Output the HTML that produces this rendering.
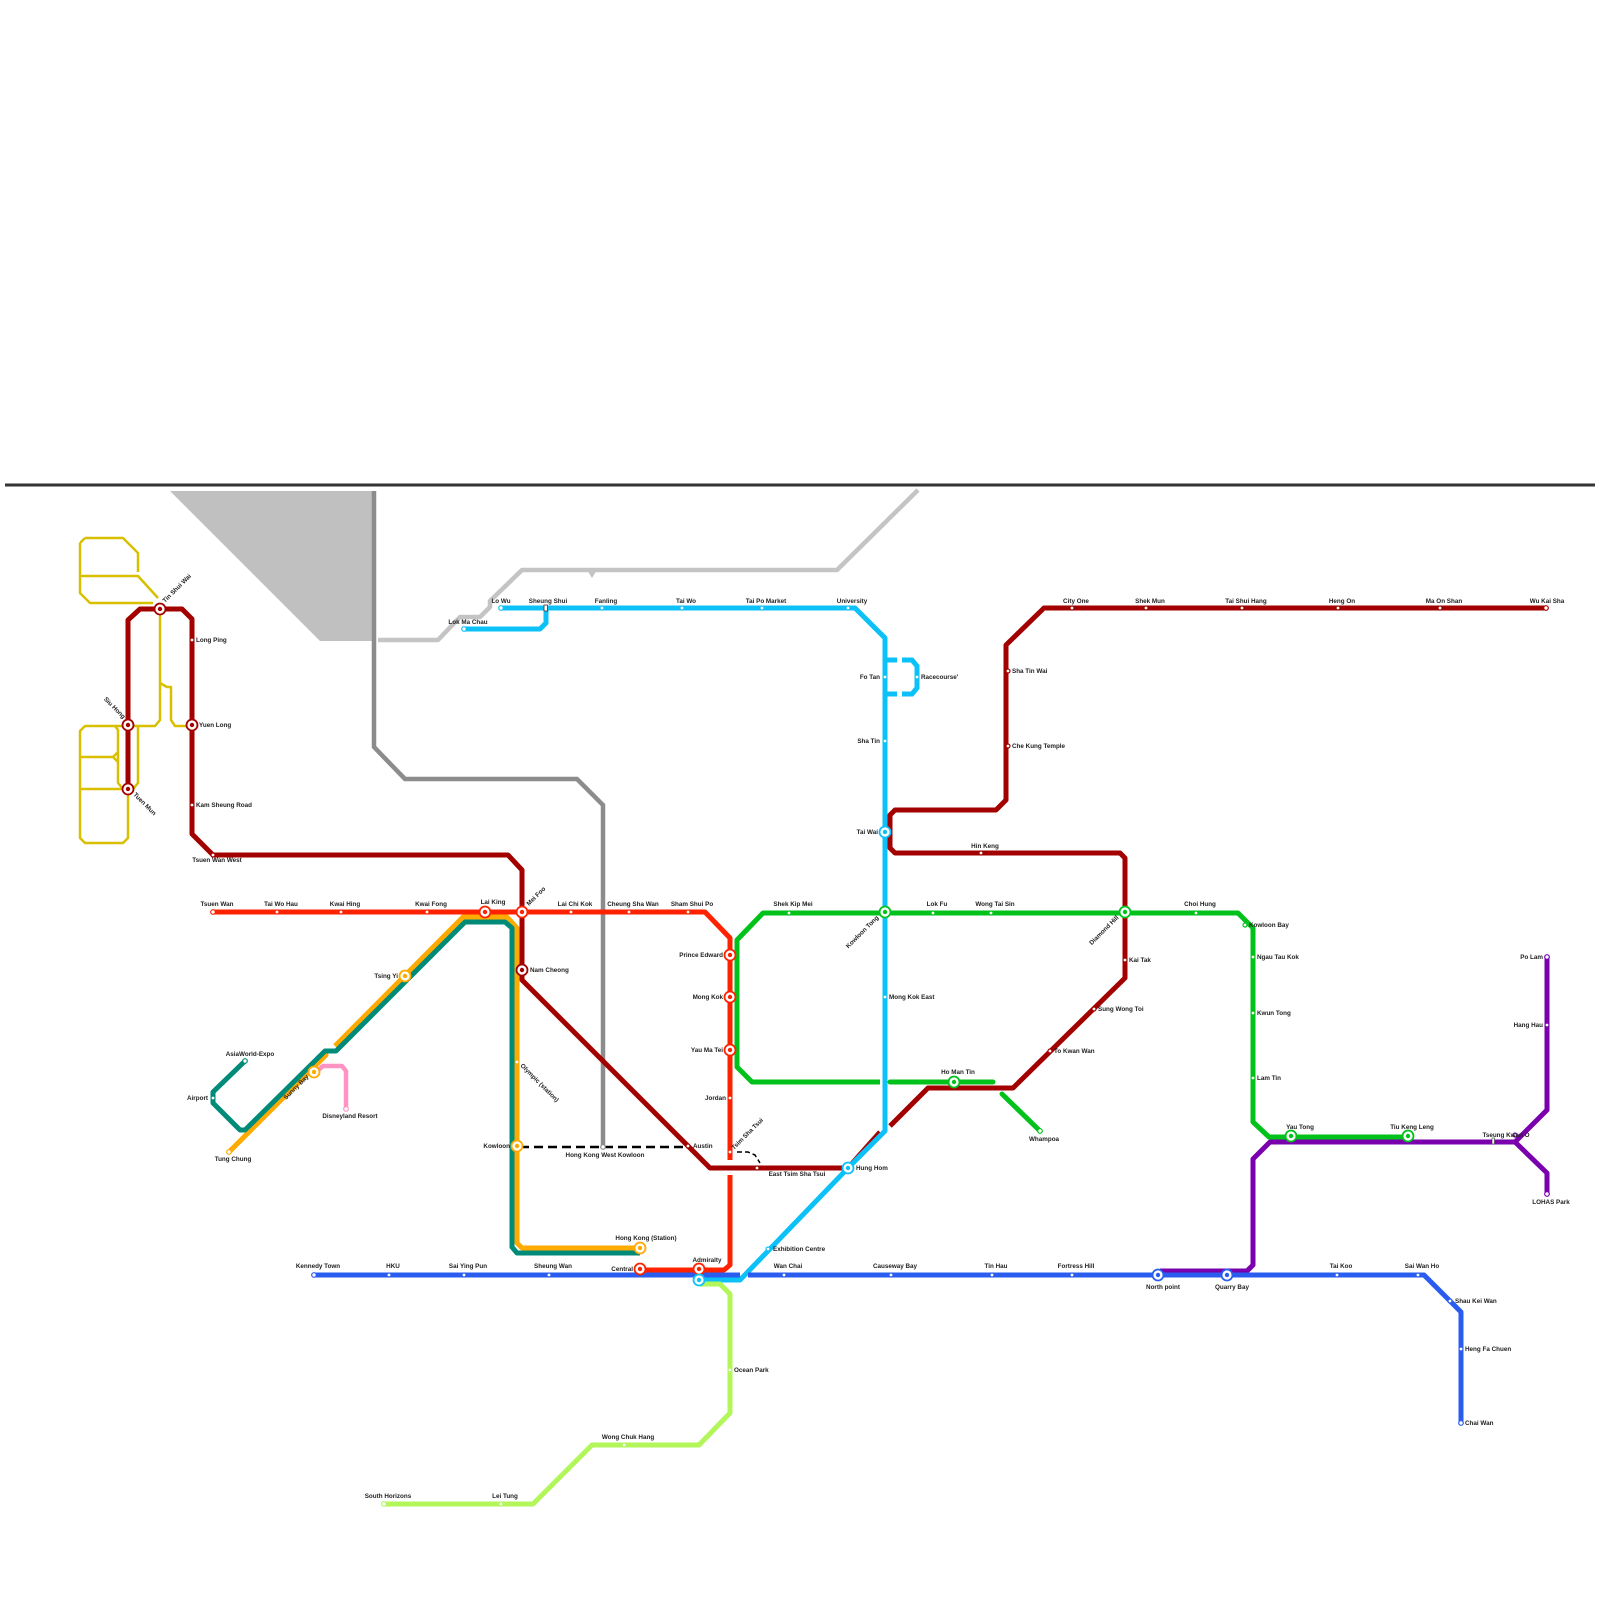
<!DOCTYPE html>
<html><head><meta charset="utf-8"><style>
html,body{margin:0;padding:0;background:#fff;}
svg{display:block;}
text{font-family:"Liberation Sans",sans-serif;font-size:6.3px;font-weight:bold;fill:#222;}
.m{text-anchor:middle}.e{text-anchor:end}
</style></head><body>
<svg width="1600" height="1600" viewBox="0 0 1600 1600" xmlns="http://www.w3.org/2000/svg">
<line x1="5" y1="485" x2="1595" y2="485" stroke="#333" stroke-width="3"/>
<!-- grey polygon -->
<polygon points="170,491 372,491 372,641 320,641" fill="#c0c0c0"/>
<!-- light grey -->
<polyline points="378,640 438,640 460,617 480,617 490,607 490,601 522,570 837,570 918,490" fill="none" stroke="#c4c4c4" stroke-width="4.5" stroke-linejoin="round"/>
<polygon points="587,570 597,570 592,578" fill="#c4c4c4"/>
<!-- dark grey -->
<polyline points="374,491 374,747 405,779 577,779 603,805 603,1147" fill="none" stroke="#8c8c8c" stroke-width="4.5"/>
<!-- dashed link -->
<line x1="520" y1="1147" x2="688" y2="1147" stroke="#000" stroke-width="2.5" stroke-dasharray="9,5"/>
<polyline points="737,1152 748,1152 755,1155 760,1163" fill="none" stroke="#000" stroke-width="1.5" stroke-dasharray="5,3"/>

<!-- light rail -->
<g fill="none" stroke="#d8c000" stroke-width="2.5" stroke-linejoin="round">
<path d="M85,538 L123,538 L138,553 L138,572 M80,543 L80,593 L90,603 L153,603 M80,576 L138,576 L158,598 M80,543 L85,538"/>
<path d="M160,607 L160,720 L155,726 L128,726 M160,683 L167,687 L171,687 L171,720 L175,726 L192,726"/>
<path d="M128,726 L85,726 L80,731 L80,838 L85,843 L123,843 L128,838 L128,789 M80,757 L113,757 M80,789 L128,789 M115,726 L118,730 L118,783 L123,789 M138,726 L138,783 L133,789 M113,757 L118,752 M113,757 L118,762"/>
</g>

<!-- Tuen Ma line -->
<polyline points="1547,608 1044,608 1006,645 1006,800 996,810 895,810 890,815 890,848 895,853 1120,853 1125,858 1125,978 1013,1088 928,1088 890,1126" fill="none" stroke="#a30000" stroke-width="5" stroke-linejoin="round"/>
<polyline points="880,1132 848,1168 710,1168 522,980 522,870 508,855 213,855 192,834 192,619 182,609 140,609 128,620 128,790" fill="none" stroke="#a30000" stroke-width="5" stroke-linejoin="round"/>

<!-- Tung Chung -->
<polyline points="229,1152 326,1055" fill="none" stroke="#ffaa00" stroke-width="5" stroke-linecap="round"/>
<polyline points="335,1046 463,917 507,917 517,928 517,1243 522,1248 640,1248" fill="none" stroke="#ffaa00" stroke-width="5" stroke-linejoin="round"/>
<!-- Airport express -->
<polyline points="245,1061 213,1092 213,1103 240,1130 245,1130 325,1051 336,1051 465,922 505,922 512,928 512,1247 517,1253 640,1253" fill="none" stroke="#008a78" stroke-width="5" stroke-linejoin="round"/>
<!-- Disney -->
<polyline points="316,1072 323,1066 342,1066 346,1071 346,1109" fill="none" stroke="#ff94c2" stroke-width="4.5" stroke-linejoin="round"/>

<!-- Tsuen Wan line -->
<polyline points="213,912 705,912 730,938 730,1160" fill="none" stroke="#ff2200" stroke-width="5" stroke-linejoin="round"/>
<polyline points="730,1175 730,1265 724,1270 640,1270" fill="none" stroke="#ff2200" stroke-width="5" stroke-linejoin="round"/>

<!-- Kwun Tong -->
<polyline points="880,1082 752,1082 737,1067 737,940 763,913 1238,913 1253,928 1253,1122 1269,1137 1408,1137" fill="none" stroke="#00c21a" stroke-width="5" stroke-linejoin="round"/>
<line x1="890" y1="1082" x2="993" y2="1082" stroke="#00c21a" stroke-width="5" stroke-linecap="round"/>
<line x1="1002" y1="1094" x2="1040" y2="1131" stroke="#00c21a" stroke-width="5" stroke-linecap="round"/>

<!-- TKO -->
<polyline points="1547,957 1547,1110 1515,1142 1270,1142 1253,1159 1253,1265 1247,1271 1160,1271" fill="none" stroke="#7a00ae" stroke-width="5" stroke-linejoin="round"/>
<polyline points="1515,1142 1547,1173 1547,1194" fill="none" stroke="#7a00ae" stroke-width="5" stroke-linejoin="round"/>

<!-- East rail cyan -->
<polyline points="501,608 855,608 885,638 885,1131 848,1168 740,1280 699,1280" fill="none" stroke="#0cc0f8" stroke-width="5" stroke-linejoin="round"/>
<polyline points="464,629 540,629 546,623 546,608" fill="none" stroke="#0cc0f8" stroke-width="5" stroke-linejoin="round"/>
<g fill="none" stroke="#0cc0f8" stroke-width="5">
<line x1="885" y1="660" x2="897" y2="660"/><polyline points="902,660 912,660 917,666 917,688 912,694 902,694"/><line x1="885" y1="694" x2="897" y2="694"/>
</g>

<!-- Island line -->
<line x1="314" y1="1275" x2="740" y2="1275" stroke="#2a5cf0" stroke-width="5"/>
<polyline points="748,1275 1424,1275 1461,1312 1461,1423" fill="none" stroke="#2a5cf0" stroke-width="5" stroke-linejoin="round"/>
<!-- South Island -->
<polyline points="699,1284 720,1284 730,1294 730,1413 699,1445 592,1445 533,1504 384,1504" fill="none" stroke="#b2f65a" stroke-width="5" stroke-linejoin="round"/>

<!-- simple stations -->
<g fill="#fff" stroke-width="1.2">
<g stroke="#a30000">
<circle cx="192" cy="640" r="2"/><circle cx="192" cy="805" r="2"/><circle cx="213" cy="855" r="2"/>
<circle cx="1072" cy="608" r="2"/><circle cx="1146" cy="608" r="2"/><circle cx="1242" cy="608" r="2"/><circle cx="1338" cy="608" r="2"/><circle cx="1440" cy="608" r="2"/><circle cx="1546" cy="608" r="2.3"/>
<circle cx="1008" cy="671" r="2"/><circle cx="1008" cy="746" r="2"/><circle cx="981" cy="853" r="2"/><circle cx="1125" cy="960" r="2"/><circle cx="1094" cy="1009" r="2"/><circle cx="1050" cy="1051" r="2"/>
<circle cx="688" cy="1146" r="2"/><circle cx="757" cy="1168" r="2"/>
</g>
<g stroke="#ff2200">
<circle cx="213" cy="912" r="2.3"/><circle cx="277" cy="912" r="2"/><circle cx="341" cy="912" r="2"/><circle cx="427" cy="912" r="2"/><circle cx="571" cy="912" r="2"/><circle cx="629" cy="912" r="2"/><circle cx="688" cy="912" r="2"/><circle cx="730" cy="1098" r="2"/><circle cx="730" cy="1152" r="2"/>
</g>
<g stroke="#00c21a">
<circle cx="789" cy="913" r="2"/><circle cx="933" cy="913" r="2"/><circle cx="991" cy="913" r="2"/><circle cx="1196" cy="913" r="2"/><circle cx="1245" cy="925" r="2"/><circle cx="1253" cy="957" r="2"/><circle cx="1253" cy="1013" r="2"/><circle cx="1253" cy="1078" r="2"/><circle cx="1040" cy="1131" r="2.3"/>
</g>
<g stroke="#7a00ae"><circle cx="1547" cy="957" r="2.3"/><circle cx="1547" cy="1025" r="2"/><circle cx="1547" cy="1194" r="2.3"/><circle cx="1515" cy="1135" r="2"/></g>
<g stroke="#0cc0f8">
<circle cx="501" cy="608" r="2.3"/><circle cx="464" cy="629" r="2.3"/><circle cx="602" cy="608" r="2"/><circle cx="682" cy="608" r="2"/><circle cx="762" cy="608" r="2"/><circle cx="848" cy="608" r="2"/>
<circle cx="885" cy="677" r="2"/><circle cx="917" cy="677" r="2"/><circle cx="885" cy="741" r="2"/><circle cx="885" cy="997" r="2"/><circle cx="768" cy="1249" r="2"/>
</g>
<g stroke="#2a5cf0">
<circle cx="314" cy="1275" r="2.3"/><circle cx="389" cy="1275" r="2"/><circle cx="464" cy="1275" r="2"/><circle cx="549" cy="1275" r="2"/><circle cx="784" cy="1275" r="2"/><circle cx="891" cy="1275" r="2"/><circle cx="992" cy="1275" r="2"/><circle cx="1072" cy="1275" r="2"/><circle cx="1337" cy="1275" r="2"/><circle cx="1418" cy="1275" r="2"/><circle cx="1450" cy="1301" r="2"/><circle cx="1461" cy="1349" r="2"/><circle cx="1461" cy="1423" r="2.3"/>
</g>
<g stroke="#b2f65a"><circle cx="730" cy="1370" r="2"/><circle cx="624" cy="1445" r="2"/><circle cx="501" cy="1504" r="2"/><circle cx="384" cy="1504" r="2.3"/></g>
<g stroke="#008a78"><circle cx="245" cy="1061" r="2.3"/><circle cx="213" cy="1098" r="2"/></g>
<circle cx="229" cy="1152" r="2.3" stroke="#ffaa00"/><circle cx="517" cy="1062" r="2" stroke="#ffaa00"/>
<circle cx="346" cy="1109" r="2.3" stroke="#ff94c2"/>
<circle cx="603" cy="1147" r="2.3" stroke="#8c8c8c"/>
</g>
<rect x="544" y="605" width="3.5" height="6" fill="#fff" stroke="#333" stroke-width="0.8"/>
<rect x="1492" y="1138" width="2.5" height="6" fill="#fff" stroke="#333" stroke-width="0.6"/>

<!-- interchange stations -->
<g fill="#fff" stroke-width="1.8">
<g stroke="#a30000"><circle cx="160" cy="609" r="5.5"/><circle cx="128" cy="725" r="5.5"/><circle cx="128" cy="789" r="5.5"/><circle cx="192" cy="725" r="5.5"/><circle cx="522" cy="970" r="5.5"/></g>
<g stroke="#ff2200"><circle cx="485" cy="912" r="5.5"/><circle cx="522" cy="912" r="5.5"/><circle cx="730" cy="955" r="5.5"/><circle cx="730" cy="997" r="5.5"/><circle cx="730" cy="1050" r="5.5"/><circle cx="640" cy="1269" r="5.5"/><circle cx="699" cy="1269" r="5.5"/></g>
<g stroke="#00c21a"><circle cx="885" cy="912" r="5.5"/><circle cx="1125" cy="912" r="5.5"/><circle cx="954" cy="1082" r="5.5"/><circle cx="1291" cy="1136" r="5.5"/><circle cx="1408" cy="1136" r="5.5"/></g>
<g stroke="#ffaa00"><circle cx="405" cy="976" r="5.5"/><circle cx="314" cy="1072" r="5.5"/><circle cx="517" cy="1146" r="5.5"/><circle cx="640" cy="1248" r="5.5"/></g>
<g stroke="#0cc0f8"><circle cx="885" cy="832" r="5.5"/><circle cx="848" cy="1168" r="5.5"/><circle cx="699" cy="1280" r="5.5"/></g>
<g stroke="#2a5cf0"><circle cx="1158" cy="1275" r="5.5"/><circle cx="1227" cy="1275" r="5.5"/></g>
</g>
<g>
<g fill="#a30000"><circle cx="160" cy="609" r="2.2"/><circle cx="128" cy="725" r="2.2"/><circle cx="128" cy="789" r="2.2"/><circle cx="192" cy="725" r="2.2"/><circle cx="522" cy="970" r="2.2"/></g>
<g fill="#ff2200"><circle cx="485" cy="912" r="2.2"/><circle cx="522" cy="912" r="2.2"/><circle cx="730" cy="955" r="2.2"/><circle cx="730" cy="997" r="2.2"/><circle cx="730" cy="1050" r="2.2"/><circle cx="640" cy="1269" r="2.2"/><circle cx="699" cy="1269" r="2.2"/></g>
<g fill="#00c21a"><circle cx="885" cy="912" r="2.2"/><circle cx="1125" cy="912" r="2.2"/><circle cx="954" cy="1082" r="2.2"/><circle cx="1291" cy="1136" r="2.2"/><circle cx="1408" cy="1136" r="2.2"/></g>
<g fill="#ffaa00"><circle cx="405" cy="976" r="2.2"/><circle cx="314" cy="1072" r="2.2"/><circle cx="517" cy="1146" r="2.2"/><circle cx="640" cy="1248" r="2.2"/></g>
<g fill="#0cc0f8"><circle cx="885" cy="832" r="2.2"/><circle cx="848" cy="1168" r="2.2"/><circle cx="699" cy="1280" r="2.2"/></g>
<g fill="#2a5cf0"><circle cx="1158" cy="1275" r="2.2"/><circle cx="1227" cy="1275" r="2.2"/></g>
</g>

<!-- labels -->
<text x="196" y="642">Long Ping</text>
<text x="199" y="727">Yuen Long</text>
<text x="196" y="807">Kam Sheung Road</text>
<text x="217" y="862" class="m">Tsuen Wan West</text>
<text transform="translate(165,603) rotate(-45)">Tin Shui Wai</text>
<text transform="translate(123,719) rotate(45)" class="e">Siu Hong</text>
<text transform="translate(133,795) rotate(45)">Tuen Mun</text>
<text x="501" y="603" class="m">Lo Wu</text>
<text x="468" y="624" class="m">Lok Ma Chau</text>
<text x="548" y="603" class="m">Sheung Shui</text>
<text x="606" y="603" class="m">Fanling</text>
<text x="686" y="603" class="m">Tai Wo</text>
<text x="766" y="603" class="m">Tai Po Market</text>
<text x="852" y="603" class="m">University</text>
<text x="880" y="679" class="e">Fo Tan</text>
<text x="921" y="679">Racecourse'</text>
<text x="880" y="743" class="e">Sha Tin</text>
<text x="878" y="834" class="e">Tai Wai</text>
<text x="889" y="999">Mong Kok East</text>
<text x="1076" y="603" class="m">City One</text>
<text x="1150" y="603" class="m">Shek Mun</text>
<text x="1246" y="603" class="m">Tai Shui Hang</text>
<text x="1342" y="603" class="m">Heng On</text>
<text x="1444" y="603" class="m">Ma On Shan</text>
<text x="1547" y="603" class="m">Wu Kai Sha</text>
<text x="1012" y="673">Sha Tin Wai</text>
<text x="1012" y="748">Che Kung Temple</text>
<text x="985" y="848" class="m">Hin Keng</text>
<text x="217" y="906" class="m">Tsuen Wan</text>
<text x="281" y="906" class="m">Tai Wo Hau</text>
<text x="345" y="906" class="m">Kwai Hing</text>
<text x="431" y="906" class="m">Kwai Fong</text>
<text x="493" y="904" class="m">Lai King</text>
<text transform="translate(529,906) rotate(-45)">Mei Foo</text>
<text x="575" y="906" class="m">Lai Chi Kok</text>
<text x="633" y="906" class="m">Cheung Sha Wan</text>
<text x="692" y="906" class="m">Sham Shui Po</text>
<text x="723" y="957" class="e">Prince Edward</text>
<text x="723" y="999" class="e">Mong Kok</text>
<text x="723" y="1052" class="e">Yau Ma Tei</text>
<text x="726" y="1100" class="e">Jordan</text>
<text transform="translate(734,1150) rotate(-45)">Tsim Sha Tsui</text>
<text x="797" y="1176" class="m">East Tsim Sha Tsui</text>
<text x="693" y="1148">Austin</text>
<text x="856" y="1170">Hung Hom</text>
<text x="605" y="1157" class="m">Hong Kong West Kowloon</text>
<text x="530" y="972">Nam Cheong</text>
<text x="398" y="978" class="e">Tsing Yi</text>
<text transform="translate(520,1066) rotate(45)">Olympic (station)</text>
<text x="510" y="1148" class="e">Kowloon</text>
<text transform="translate(309,1077) rotate(-45)" class="e">Sunny Bay</text>
<text x="250" y="1056" class="m">AsiaWorld-Expo</text>
<text x="208" y="1100" class="e">Airport</text>
<text x="233" y="1161" class="m">Tung Chung</text>
<text x="350" y="1118" class="m">Disneyland Resort</text>
<text x="646" y="1240" class="m">Hong Kong (Station)</text>
<text x="633" y="1271" class="e">Central</text>
<text x="707" y="1262" class="m">Admiralty</text>
<text x="773" y="1251">Exhibition Centre</text>
<text x="318" y="1268" class="m">Kennedy Town</text>
<text x="393" y="1268" class="m">HKU</text>
<text x="468" y="1268" class="m">Sai Ying Pun</text>
<text x="553" y="1268" class="m">Sheung Wan</text>
<text x="788" y="1268" class="m">Wan Chai</text>
<text x="895" y="1268" class="m">Causeway Bay</text>
<text x="996" y="1268" class="m">Tin Hau</text>
<text x="1076" y="1268" class="m">Fortress Hill</text>
<text x="1163" y="1289" class="m">North point</text>
<text x="1232" y="1289" class="m">Quarry Bay</text>
<text x="1341" y="1268" class="m">Tai Koo</text>
<text x="1422" y="1268" class="m">Sai Wan Ho</text>
<text x="1455" y="1303">Shau Kei Wan</text>
<text x="1465" y="1351">Heng Fa Chuen</text>
<text x="1465" y="1425">Chai Wan</text>
<text x="734" y="1372">Ocean Park</text>
<text x="628" y="1439" class="m">Wong Chuk Hang</text>
<text x="505" y="1498" class="m">Lei Tung</text>
<text x="388" y="1498" class="m">South Horizons</text>
<text x="793" y="906" class="m">Shek Kip Mei</text>
<text transform="translate(879,918) rotate(-45)" class="e">Kowloon Tong</text>
<text x="937" y="906" class="m">Lok Fu</text>
<text x="995" y="906" class="m">Wong Tai Sin</text>
<text transform="translate(1119,918) rotate(-45)" class="e">Diamond Hill</text>
<text x="1200" y="906" class="m">Choi Hung</text>
<text x="1249" y="927">Kowloon Bay</text>
<text x="1257" y="959">Ngau Tau Kok</text>
<text x="1257" y="1015">Kwun Tong</text>
<text x="1257" y="1080">Lam Tin</text>
<text x="1129" y="962">Kai Tak</text>
<text x="1098" y="1011">Sung Wong Toi</text>
<text x="1054" y="1053">To Kwan Wan</text>
<text x="958" y="1074" class="m">Ho Man Tin</text>
<text x="1044" y="1141" class="m">Whampoa</text>
<text x="1300" y="1129" class="m">Yau Tong</text>
<text x="1412" y="1129" class="m">Tiu Keng Leng</text>
<text x="1506" y="1137" class="m">Tseung Kwan O</text>
<text x="1543" y="959" class="e">Po Lam</text>
<text x="1543" y="1027" class="e">Hang Hau</text>
<text x="1551" y="1204" class="m">LOHAS Park</text>
</svg>
</body></html>
